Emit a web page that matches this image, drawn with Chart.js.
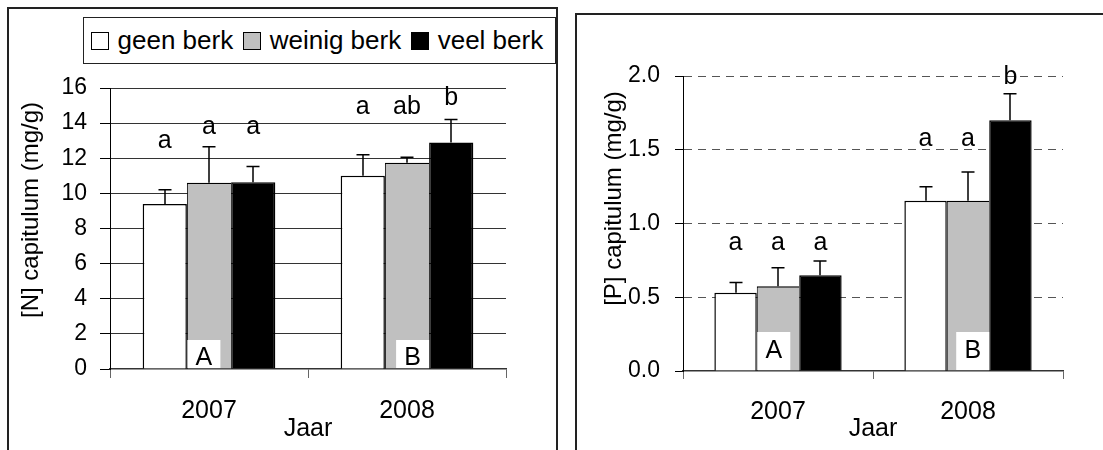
<!DOCTYPE html>
<html lang="nl">
<head>
<meta charset="UTF-8">
<title>[N] en [P] capitulum</title>
<script src="https://cdn.jsdelivr.net/npm/chart.js"></script>
<style>
    body { margin: 0; background: #fff; font-family: "Liberation Sans", Arial, sans-serif; }
    #page { position: relative; width: 1103px; height: 450px; overflow: hidden; }
    .panel { position: absolute; border: 2px solid #222; box-sizing: border-box; }
    #panelN { left: 7px; top: 7px; width: 551px; height: 520px; }
    #panelP { left: 575px; top: 13px; width: 620px; height: 520px; }
    .wrap { position: absolute; top: 0; height: 450px; }
    #wrapN { left: 0; width: 565px; }
    #wrapP { left: 565px; width: 538px; }
    #legend {
        position: absolute; left: 83px; top: 17px; width: 473px; height: 47px;
        border: 1.5px solid #222; box-sizing: border-box; background: #fff;
        display: flex; align-items: center; padding-left: 7px; font-size: 26px; color: #000;
    }
    .item { display: flex; align-items: center; margin-right: 10px; white-space: nowrap; }
    .swatch { width: 18px; height: 18px; border: 1px solid #000; box-sizing: border-box; margin-right: 8.5px; }
</style>
</head>
<body>
<div id="page">
    <div class="panel" id="panelN"></div>
    <div class="panel" id="panelP"></div>
    <div class="wrap" id="wrapN"><canvas id="chartN"></canvas></div>
    <div class="wrap" id="wrapP"><canvas id="chartP"></canvas></div>
    <div id="legend"></div>
</div>
<script>
    // categories and series
    const years = ['2007', '2008'];
    const groups = ['geen berk', 'weinig berk', 'veel berk'];
    const colors = ['#ffffff', '#c0c0c0', '#000000'];

    // [N] capitulum (mg/g)
    const nGeen = [9.4, 11.0];
    const nWeinig = [10.6, 11.75];
    const nVeel = [10.63, 12.9];
    const nErr = [[0.8, 1.2], [2.05, 0.3], [0.9, 1.3]];
    const nLetters = [['a', 'a'], ['a', 'ab'], ['a', 'b']];
    const nLetterY = [[13.0, 14.9], [13.8, 14.9], [13.8, 15.4]];
    const nTicks = [0, 2, 4, 6, 8, 10, 12, 14, 16];

    // [P] capitulum (mg/g)
    const pGeen = [0.53, 1.155];
    const pWeinig = [0.575, 1.155];
    const pVeel = [0.65, 1.70];
    const pErr = [[0.07, 0.095], [0.125, 0.195], [0.095, 0.18]];
    const pLetters = [['a', 'a'], ['a', 'a'], ['a', 'b']];
    const pLetterY = [[0.87, 1.57], [0.87, 1.57], [0.87, 1.99]];
    const pTicks = [0, 0.5, 1.0, 1.5, 2.0];

    const yearBoxes = ['A', 'B'];

    Chart.defaults.font.family = '"Liberation Sans", Arial, sans-serif';
    Chart.defaults.color = '#000';

    // legend (html)
    const legend = document.getElementById('legend');
    groups.forEach((g, i) => {
        const item = document.createElement('div');
        item.className = 'item';
        const sw = document.createElement('div');
        sw.className = 'swatch';
        sw.style.background = colors[i];
        item.appendChild(sw);
        item.appendChild(document.createTextNode(g));
        legend.appendChild(item);
    });

    // error bars, letters, A/B boxes and the y title
    const marks = {
        id: 'marks',
        afterDatasetsDraw(chart, args, opts) {
            const ctx = chart.ctx;
            const y = chart.scales.y;
            ctx.save();
            ctx.strokeStyle = '#000';
            ctx.lineWidth = 1.5;
            opts.errors.forEach((errs, i) => {
                const meta = chart.getDatasetMeta(i);
                const vals = chart.data.datasets[i].data;
                meta.data.forEach((bar, j) => {
                    const top = y.getPixelForValue(vals[j] + errs[j]);
                    const x = Math.round(bar.x);
                    ctx.beginPath();
                    ctx.moveTo(x, bar.y);
                    ctx.lineTo(x, top);
                    ctx.moveTo(x - 6.5, top);
                    ctx.lineTo(x + 6.5, top);
                    ctx.stroke();
                });
            });

            ctx.fillStyle = '#000';
            ctx.font = '25px "Liberation Sans", Arial, sans-serif';
            ctx.textAlign = 'center';
            ctx.textBaseline = 'middle';
            opts.letters.forEach((row, i) => {
                const meta = chart.getDatasetMeta(i);
                row.forEach((txt, j) => {
                    ctx.fillText(txt, meta.data[j].x, y.getPixelForValue(opts.letterY[i][j]));
                });
            });

            const grey = chart.getDatasetMeta(1);
            const base = y.getPixelForValue(0);
            opts.boxes.forEach((txt, j) => {
                const bar = grey.data[j];
                const left = j === 0 ? bar.x - bar.width / 2 + 0.5 : bar.x + bar.width / 2 - opts.boxW;
                ctx.fillStyle = '#fff';
                ctx.fillRect(left, base - opts.boxH, opts.boxW, opts.boxH - 1);
                ctx.fillStyle = '#000';
                ctx.fillText(txt, left + opts.boxW / 2, base - opts.boxTextY);
            });

            ctx.font = '24px "Liberation Sans", Arial, sans-serif';
            ctx.translate(opts.yTitle.x, opts.yTitle.y);
            ctx.rotate(-Math.PI / 2);
            ctx.fillText(opts.yTitle.text, 0, 0);
            ctx.restore();
        }
    };

    function makeDatasets(series) {
        return series.map((data, i) => ({
            label: groups[i],
            data: data,
            backgroundColor: colors[i],
            borderColor: '#000',
            borderWidth: i === 1 ? { top: 1.5, left: 1, right: 0, bottom: 0 } : 1.5,
            borderSkipped: 'bottom',
            categoryPercentage: 0.67,
            barPercentage: 1.0
        }));
    }

    function makeChart(id, cfg) {
        return new Chart(document.getElementById(id), {
            type: 'bar',
            data: { labels: years, datasets: makeDatasets(cfg.series) },
            options: {
                responsive: true,
                maintainAspectRatio: false,
                animation: false,
                layout: { padding: cfg.padding },
                plugins: {
                    legend: { display: false },
                    tooltip: { enabled: false },
                    marks: cfg.marks
                },
                scales: {
                    x: {
                        afterFit: s => { s.height = cfg.xHeight; },
                        grid: { drawOnChartArea: false, tickLength: cfg.xTick, color: '#666' },
                        border: { color: '#333', width: 1.5 },
                        ticks: { font: { size: 25 }, padding: 18, color: '#000' },
                        title: { display: true, text: 'Jaar', font: { size: 25 }, padding: { top: 0, bottom: 6 }, color: '#000' }
                    },
                    y: {
                        min: cfg.ticks[0],
                        max: cfg.ticks[cfg.ticks.length - 1],
                        afterFit: s => { s.width = cfg.yWidth; },
                        afterBuildTicks: s => { s.ticks = cfg.ticks.map(v => ({ value: v })); },
                        grid: {
                            color: ctx => ctx.tick && ctx.tick.value === 0 ? 'rgba(0,0,0,0)' : cfg.gridColor,
                            tickColor: '#000',
                            tickLength: cfg.yTick,
                            lineWidth: 1
                        },
                        border: { color: '#000', width: 1, dash: cfg.dash },
                        ticks: {
                            font: { size: 23 },
                            padding: cfg.yPad,
                            color: '#000',
                            callback: cfg.fmt
                        }
                    }
                }
            },
            plugins: [marks]
        });
    }

    makeChart('chartN', {
        series: [nGeen, nWeinig, nVeel],
        ticks: nTicks,
        padding: { left: 0, top: 88, right: 59, bottom: 0 },
        xHeight: 81, yWidth: 110, xTick: 9, yTick: 10, yPad: 13,
        gridColor: '#333', dash: [],
        fmt: v => String(v),
        marks: {
            errors: nErr, letters: nLetters, letterY: nLetterY,
            boxes: yearBoxes, boxW: 33, boxH: 29, boxTextY: 11,
            yTitle: { text: '[N] capitulum (mg/g)', x: 31, y: 210 }
        }
    });

    makeChart('chartP', {
        series: [pGeen, pWeinig, pVeel],
        ticks: pTicks,
        padding: { left: 0, top: 76, right: 40, bottom: 0 },
        xHeight: 79, yWidth: 118, xTick: 8, yTick: 8, yPad: 15,
        gridColor: '#555', dash: [8, 6],
        fmt: v => v.toFixed(1),
        marks: {
            errors: pErr, letters: pLetters, letterY: pLetterY,
            boxes: yearBoxes, boxW: 33, boxH: 39, boxTextY: 19.5,
            yTitle: { text: '[P] capitulum (mg/g)', x: 49, y: 198.5 }
        }
    });
</script>
</body>
</html>
